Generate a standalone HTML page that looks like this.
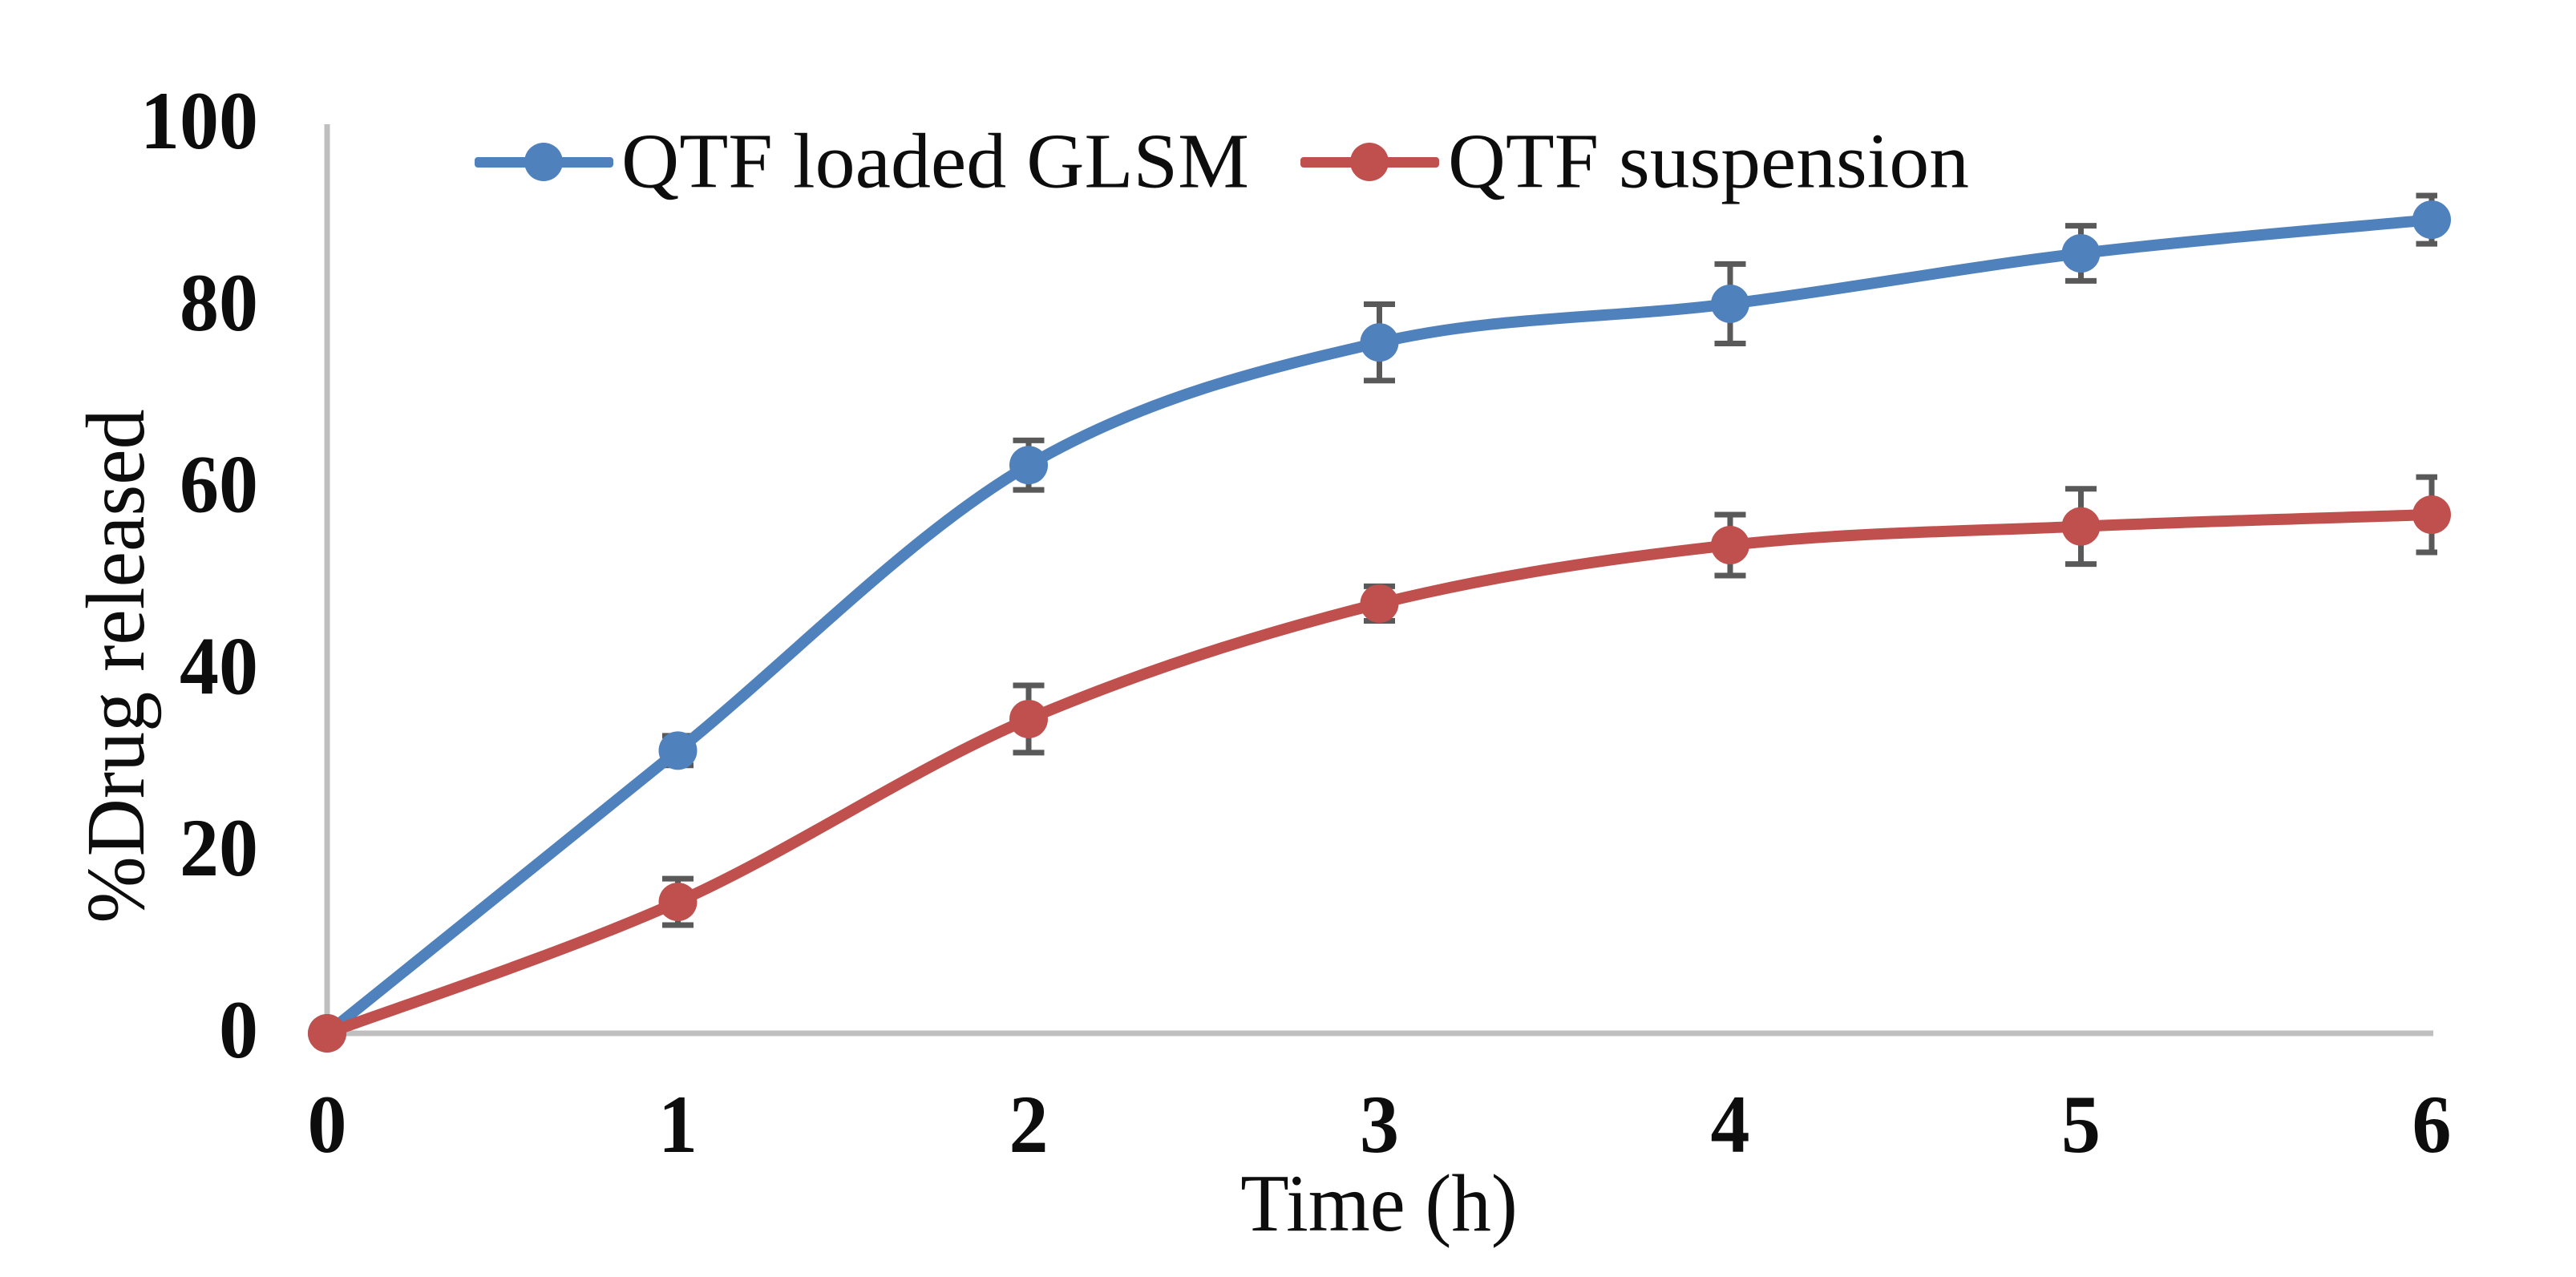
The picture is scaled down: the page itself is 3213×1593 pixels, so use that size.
<!DOCTYPE html>
<html lang="en">
<head>
<meta charset="utf-8">
<title>Drug release chart</title>
<style>
html,body{margin:0;padding:0;background:#fff;width:3213px;height:1593px;overflow:hidden}
svg{display:block}
text{font-family:"Liberation Serif","Times New Roman",serif;fill:#0d0d0d}
.tick{font-weight:bold;font-size:98px}
.label{font-size:98px}
.title{font-size:100px}
.x-title{font-size:99px}
</style>
</head>
<body>
<svg id="chart" xmlns="http://www.w3.org/2000/svg" width="3213" height="1593" viewBox="0 0 3213 1593">
  <rect x="0" y="0" width="3213" height="1593" fill="#ffffff"/>
  <g id="axes">
    <line x1="408" y1="155" x2="408" y2="1292" stroke="#bfbfbf" stroke-width="7"/>
    <line x1="408" y1="1289" x2="3035" y2="1289" stroke="#bfbfbf" stroke-width="7"/>
  </g>
  <g id="y-ticks"></g>
  <g id="x-ticks"></g>
  <text class="title" text-anchor="middle" transform="translate(179,831) rotate(-90) scale(1,1.04)">%Drug released</text>
  <text class="x-title" text-anchor="middle" transform="translate(1720,1535) scale(1,1.03)">Time (h)</text>
  <g id="plot"></g>
  <g id="legend">
    <g>
      <rect x="592" y="196" width="173" height="13" rx="4" fill="#4f81bd"/>
      <circle cx="678" cy="202" r="24" fill="#4f81bd"/>
      <text class="label" transform="translate(775,233.5)" textLength="783" lengthAdjust="spacingAndGlyphs">QTF loaded GLSM</text>
    </g>
    <g>
      <rect x="1622" y="196" width="173" height="13" rx="4" fill="#c0504d"/>
      <circle cx="1708" cy="202" r="24" fill="#c0504d"/>
      <text class="label" transform="translate(1806,233.5)" textLength="650" lengthAdjust="spacingAndGlyphs">QTF suspension</text>
    </g>
  </g>
</svg>
<script>
var timePoints = [0, 1, 2, 3, 4, 5, 6];
var glsmValues = [0, 31.1, 62.5, 76.0, 80.25, 85.8, 89.5];
var glsmErrors = [0, 1.63, 2.72, 4.2, 4.37, 3.03, 2.65];
var suspensionValues = [0, 14.46, 34.57, 47.27, 53.7, 55.76, 57.05];
var suspensionErrors = [0, 2.55, 3.7, 1.9, 3.35, 4.14, 4.14];
var yTickLabels = [0, 20, 40, 60, 80, 100];
var xTickLabels = [0, 1, 2, 3, 4, 5, 6];

var NS = 'http://www.w3.org/2000/svg';
function xScale(t) { return 408 + t * 437.5; }
function yScale(v) { return 1289 - v * 11.34; }
var errorClipRight = 3040;
var capHalf = 19.5;

function make(tag, attrs, parent) {
  var el = document.createElementNS(NS, tag);
  for (var k in attrs) { el.setAttribute(k, attrs[k]); }
  parent.appendChild(el);
  return el;
}

var yTicksGroup = document.getElementById('y-ticks');
yTickLabels.forEach(function (v) {
  var el = make('text', { 'class': 'tick', 'text-anchor': 'end', transform: 'translate(322,' + (yScale(v) + 30) + ') scale(1,1.05)' }, yTicksGroup);
  
  
  el.textContent = v;
});

var xTicksGroup = document.getElementById('x-ticks');
xTickLabels.forEach(function (t) {
  var el = make('text', { 'class': 'tick', 'text-anchor': 'middle', transform: 'translate(' + xScale(t) + ',1437) scale(1,1.05)' }, xTicksGroup);
  
  
  el.textContent = t;
});

function smoothPath(xs, ys) {
  var pts = xs.map(function (x, i) { return [xScale(x), yScale(ys[i])]; });
  var d = 'M' + pts[0][0] + ' ' + pts[0][1];
  for (var i = 0; i < pts.length - 1; i++) {
    var p0 = pts[Math.max(i - 1, 0)], p1 = pts[i], p2 = pts[i + 1], p3 = pts[Math.min(i + 2, pts.length - 1)];
    var c1x = p1[0] + (p2[0] - p0[0]) / 6, c1y = p1[1] + (p2[1] - p0[1]) / 6;
    var c2x = p2[0] - (p3[0] - p1[0]) / 6, c2y = p2[1] - (p3[1] - p1[1]) / 6;
    d += ' C' + c1x + ' ' + c1y + ' ' + c2x + ' ' + c2y + ' ' + p2[0] + ' ' + p2[1];
  }
  return d;
}

function drawSeries(values, errors, color, slug) {
  var plot = document.getElementById('plot');
  var g = make('g', {}, plot);
  
  

  timePoints.forEach(function (t, i) {
    if (!errors[i]) { return; }
    var x = xScale(t), top = yScale(values[i] + errors[i]), bottom = yScale(values[i] - errors[i]);
    var left = x - capHalf, right = Math.min(x + capHalf, errorClipRight);
    var stem = make('line', { x1: x, y1: top, x2: x, y2: bottom, stroke: '#595959', 'stroke-width': 7 }, g);
    
    
    var capTop = make('line', { x1: left, y1: top, x2: right, y2: top, stroke: '#595959', 'stroke-width': 7 }, g);
    
    
    var capBottom = make('line', { x1: left, y1: bottom, x2: right, y2: bottom, stroke: '#595959', 'stroke-width': 7 }, g);
    
    
  });

  var line = make('path', { d: smoothPath(timePoints, values), fill: 'none', stroke: color, 'stroke-width': 14, 'stroke-linejoin': 'round', 'stroke-linecap': 'round' }, g);
  
  

  timePoints.forEach(function (t, i) {
    var c = make('circle', { cx: xScale(t), cy: yScale(values[i]), r: 24, fill: color }, g);
    
    
  });
}

drawSeries(glsmValues, glsmErrors, '#4f81bd', 'qtf-loaded-glsm');
drawSeries(suspensionValues, suspensionErrors, '#c0504d', 'qtf-suspension');
</script>
</body>
</html>
